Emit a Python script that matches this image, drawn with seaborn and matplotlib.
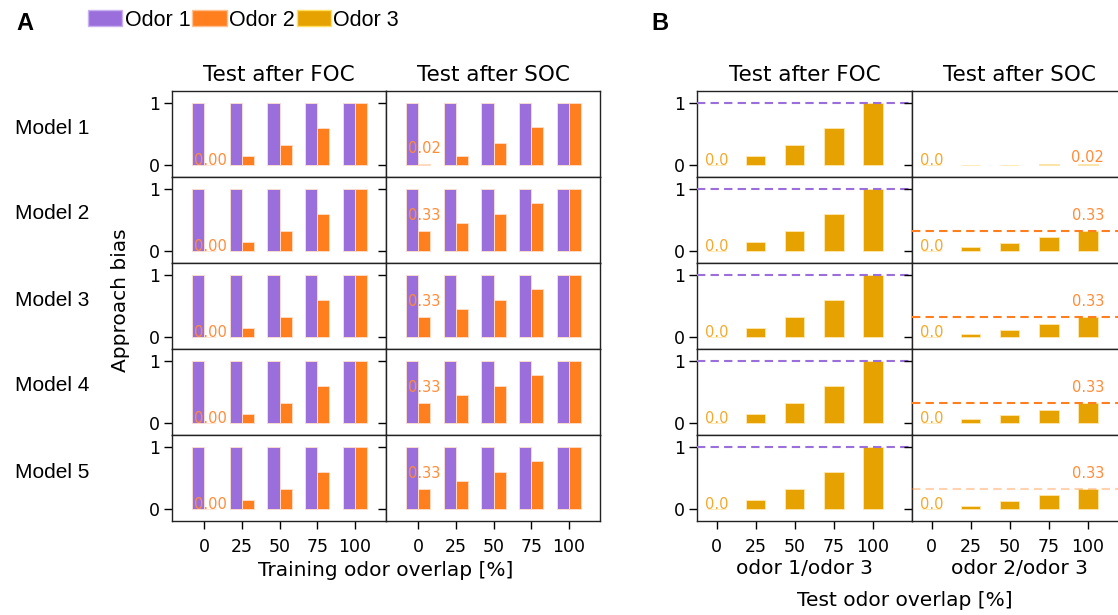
import matplotlib
matplotlib.use("Agg")
import matplotlib.pyplot as plt
from matplotlib.patches import Patch
import seaborn as sns
import pandas as pd

# --- data ---
overlap = [0, 25, 50, 75, 100]
models = ["Model 1", "Model 2", "Model 3", "Model 4", "Model 5"]

# panel A: approach bias after training (odor 1 vs odor 2)
foc_odor1 = [1.0, 1.0, 1.0, 1.0, 1.0]
foc_odor2 = [0.00, 0.14, 0.33, 0.60, 1.00]
soc_odor1 = [1.0, 1.0, 1.0, 1.0, 1.0]
soc_odor2 = [
    [0.02, 0.15, 0.35, 0.62, 1.00],
    [0.33, 0.45, 0.60, 0.78, 1.00],
    [0.33, 0.45, 0.60, 0.78, 1.00],
    [0.33, 0.45, 0.60, 0.78, 1.00],
    [0.33, 0.45, 0.60, 0.78, 1.00],
]
soc_label = ["0.02", "0.33", "0.33", "0.33", "0.33"]

# panel B: test with odor 3
test_foc_odor3 = [0.0, 0.14, 0.33, 0.60, 1.00]
test_soc_odor3 = [
    [0.0, 0.006, 0.006, 0.008, 0.02],
    [0.0, 0.06, 0.13, 0.22, 0.33],
    [0.0, 0.05, 0.12, 0.21, 0.33],
    [0.0, 0.06, 0.13, 0.21, 0.33],
    [0.0, 0.05, 0.13, 0.22, 0.33],
]
soc_ref_level = [None, 0.33, 0.33, 0.33, 0.33]
soc_ref_alpha = [0, 1, 1, 1, 0.35]

c1 = "#9b6fdb"
c2 = "#ff7f1e"
c3 = "#e6a200"
txt2 = "#ff8c3a"
txt3 = "#f2aa2e"

sns.set_theme(style="ticks")
plt.rcParams["font.family"] = ["DejaVu Sans"]
plt.rcParams["axes.linewidth"] = 1.0
plt.rcParams["axes.edgecolor"] = "#222222"
for k in ["text.color", "axes.labelcolor", "xtick.color", "ytick.color"]:
    plt.rcParams[k] = "black"

W, H = 1118, 615
fig = plt.figure(figsize=(W / 100, H / 100), dpi=100)

row_h = 86 / H
top = 1 - 91 / H
ylim = (-0.194, 1.194)
order = [str(o) for o in overlap]


def style_axes(ax, r, first_col, xlim):
    ax.set_ylim(*ylim)
    ax.set_xlim(*xlim)
    ax.set_yticks([0, 1])
    ax.tick_params(axis="y", length=5.5, width=1, labelsize=12.5, pad=3)
    if first_col:
        ax.set_yticklabels(["0", "1"])
    else:
        ax.set_yticklabels([])
    if r == 4:
        ax.tick_params(axis="x", length=5.5, width=1, labelsize=12.5, pad=7)
    else:
        ax.set_xticks([])
    ax.set_xlabel("")
    ax.set_ylabel("")
    for s in ax.spines.values():
        s.set_visible(True)
    leg = ax.get_legend()
    if leg is not None:
        leg.remove()


def pair_bars(ax, odor1, odor2):
    df = pd.DataFrame({
        "overlap": order * 2,
        "bias": list(odor1) + list(odor2),
        "odor": ["Odor 1"] * 5 + ["Odor 2"] * 5,
    })
    sns.barplot(data=df, x="overlap", y="bias", hue="odor", order=order,
                hue_order=["Odor 1", "Odor 2"], palette=[c1, c2],
                width=0.64, gap=0, errorbar=None, ax=ax,
                edgecolor="#ffe0cc", linewidth=0.6, saturation=1)


def single_bars(ax, vals):
    df = pd.DataFrame({"overlap": order, "bias": vals})
    sns.barplot(data=df, x="overlap", y="bias", order=order, color=c3,
                width=0.5, errorbar=None, ax=ax, edgecolor="#ffe7b0",
                linewidth=0.6, saturation=1)


# panel A
a_left = 172 / W
a_w = 214 / W
for r in range(5):
    y0 = top - (r + 1) * row_h
    ax1 = fig.add_axes([a_left, y0, a_w, row_h])
    pair_bars(ax1, foc_odor1, foc_odor2)
    ax1.text(0.16, 0.07, "0.00", color=txt2, ha="center", va="center",
             fontsize=10.5, zorder=3)
    style_axes(ax1, r, True, (-0.85, 4.82))

    ax2 = fig.add_axes([a_left + a_w, y0, a_w, row_h])
    pair_bars(ax2, soc_odor1, soc_odor2[r])
    ty = 0.27 if r == 0 else 0.57
    ax2.text(0.16, ty, soc_label[r], color=txt2, ha="center", va="center",
             fontsize=10.5, zorder=3)
    style_axes(ax2, r, False, (-0.85, 4.82))

    fig.text(52 / W, y0 + row_h / 2 + 6 / H, models[r], ha="center",
             va="center", fontsize=15, family=["Liberation Sans"])

    if r == 0:
        ax1.set_title("Test after FOC", fontsize=15.5, pad=7)
        ax2.set_title("Test after SOC", fontsize=15.5, pad=7)
    if r == 4:
        fig.text(a_left + a_w, 1 - 571 / H, "Training odor overlap [%]",
                 ha="center", va="center", fontsize=14.5)

# panel B
b_left = 697 / W
b_w = 215 / W
for r in range(5):
    y0 = top - (r + 1) * row_h
    bx1 = fig.add_axes([b_left, y0, b_w, row_h])
    single_bars(bx1, test_foc_odor3)
    bx1.axhline(1.0, color=c1, ls=(0, (4, 2.5)), lw=1.5, zorder=3)
    bx1.text(0, 0.065, "0.0", color=txt3, ha="center", va="center",
             fontsize=10.5)
    style_axes(bx1, r, True, (-0.5, 5.0))

    bx2 = fig.add_axes([b_left + b_w, y0, b_w, row_h])
    single_bars(bx2, test_soc_odor3[r])
    bx2.text(0, 0.065, "0.0", color=txt3, ha="center", va="center",
             fontsize=10.5)
    if soc_ref_level[r] is None:
        bx2.text(4, 0.12, "0.02", color=txt2, ha="center", va="center",
                 fontsize=10.5)
    else:
        bx2.axhline(soc_ref_level[r], color=c2, alpha=soc_ref_alpha[r],
                    ls=(0, (4, 2.5)), lw=1.5, zorder=3)
        bx2.text(4, 0.58, "0.33", color=txt2, ha="center", va="center",
                 fontsize=10.5)
    style_axes(bx2, r, False, (-0.5, 5.0))

    if r == 0:
        bx1.set_title("Test after FOC", fontsize=15.5, pad=7)
        bx2.set_title("Test after SOC", fontsize=15.5, pad=7)
    if r == 4:
        bx1.set_xlabel("odor 1/odor 3", fontsize=14.5, labelpad=2)
        bx2.set_xlabel("odor 2/odor 3", fontsize=14.5, labelpad=2)

fig.text(905 / W, 1 - 600 / H, "Test odor overlap [%]", ha="center",
         va="center", fontsize=14.5)
fig.text(120 / W, 1 - 300 / H, "Approach bias", ha="center", va="center",
         rotation=90, fontsize=14.5)

# panel letters and legend
fig.text(25 / W, 1 - 24 / H, "A", ha="center", va="center", fontsize=17,
         fontweight="bold", family=["Liberation Sans"])
fig.text(660 / W, 1 - 24 / H, "B", ha="center", va="center", fontsize=17,
         fontweight="bold", family=["Liberation Sans"])

handles = [Patch(facecolor=c1, edgecolor="#c9b0f0", label="Odor 1"),
           Patch(facecolor=c2, edgecolor="#ffc090", label="Odor 2"),
           Patch(facecolor=c3, edgecolor="#ffe060", label="Odor 3")]
fig.legend(handles=handles, loc="center left", bbox_to_anchor=(88 / W, 1 - 20 / H),
           ncol=3, frameon=False, handlelength=1.6, handleheight=0.8,
           handletextpad=0.1, columnspacing=0.1, borderaxespad=0,
           borderpad=0, prop={"family": "Liberation Sans", "size": 15.5})

fig.savefig("out.png", dpi=100)
